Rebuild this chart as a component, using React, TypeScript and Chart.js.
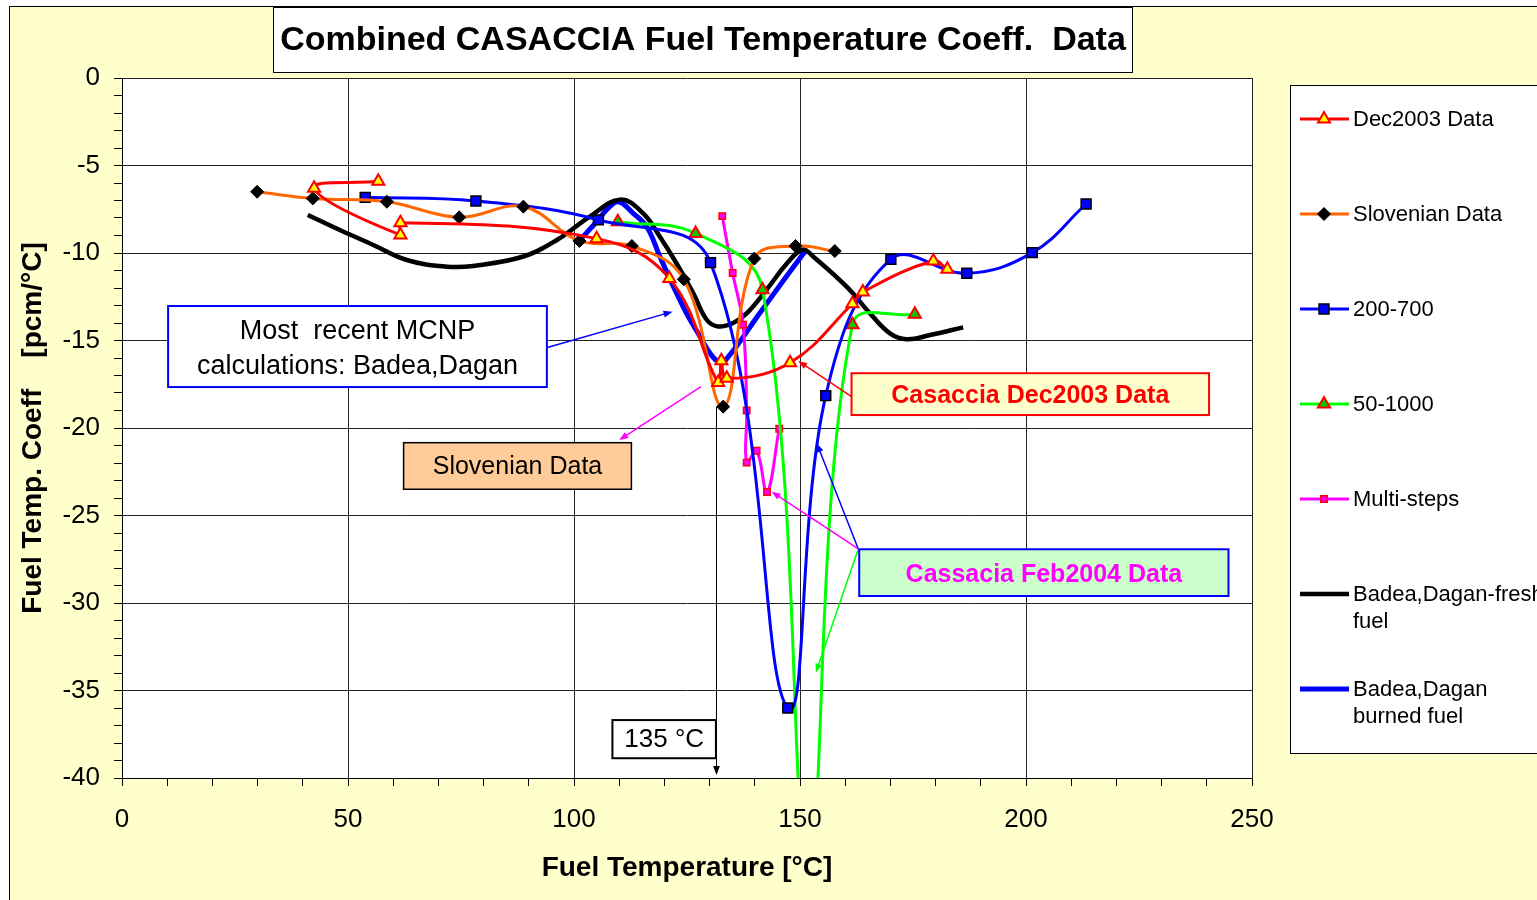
import React, { useEffect, useRef } from 'react';
import { Chart, registerables } from 'chart.js';

Chart.register(...registerables);

// ---------- DATA ----------
const seriesLabels = [
  'Dec2003 Data',
  'Slovenian Data',
  '200-700',
  '50-1000',
  'Multi-steps',
  'Badea,Dagan-fresh fuel',
  'Badea,Dagan burned fuel',
];
const legendLines = [
  ['Dec2003 Data'],
  ['Slovenian Data'],
  ['200-700'],
  ['50-1000'],
  ['Multi-steps'],
  ['Badea,Dagan-fresh', 'fuel'],
  ['Badea,Dagan', 'burned fuel'],
];

const dec2003X = [56.7, 42.5, 61.6, 61.6, 105.0, 121.1, 131.9, 132.6, 133.8, 147.8, 161.6, 163.9, 179.5, 182.6];
const dec2003Y = [-5.9, -6.3, -8.97, -8.27, -9.18, -11.45, -17.4, -16.15, -17.16, -16.27, -12.9, -12.23, -10.46, -10.93];

const slovX = [29.9, 42.2, 58.6, 74.6, 88.8, 101.2, 112.8, 124.3, 133.0, 139.9, 149.0, 157.7];
const slovY = [-6.5, -6.88, -7.07, -7.96, -7.35, -9.31, -9.6, -11.5, -18.78, -10.32, -9.6, -9.89];

const s200X = [53.8, 78.3, 105.4, 130.2, 147.3, 155.7, 170.1, 186.9, 201.4, 213.3];
const s200Y = [-6.82, -7.03, -8.11, -10.55, -36.0, -18.15, -10.36, -11.16, -9.98, -7.2];

const s50X = [109.7, 126.9, 141.7, 151.8, 161.6, 175.4];
const s50Y = [-8.21, -8.88, -12.1, -44.0, -14.1, -13.5];

const multiX = [132.8, 135.1, 137.4, 138.2, 138.2, 140.4, 142.7, 145.4];
const multiY = [-7.89, -11.14, -14.1, -19.0, -21.98, -21.3, -23.66, -20.04];

const freshX = [41.1, 48.2, 55.6, 63.0, 71.8, 77.7, 88.8, 96.2, 103.5, 110.2, 115.3, 119.0, 122.7, 126.4, 129.4, 131.9, 135.2, 138.2, 142.6, 147.1, 150.6, 152.9, 160.3, 165.5, 169.9, 173.6, 178.8, 186.1];
const freshY = [-7.83, -8.69, -9.54, -10.4, -10.78, -10.74, -10.2, -9.26, -7.92, -6.95, -7.73, -9.07, -10.6, -12.3, -13.83, -14.2, -14.0, -13.45, -12.1, -10.6, -9.8, -10.2, -11.92, -13.45, -14.59, -14.93, -14.69, -14.25];

const burnedX = [101.3, 105.4, 107.2, 109.8, 113.1, 116.1, 119.0, 122.0, 124.9, 127.9, 130.1, 131.9, 133.6, 141.2, 147.1, 151.1];
const burnedY = [-9.26, -8.1, -7.54, -7.07, -7.73, -8.5, -10.2, -11.92, -13.45, -14.78, -15.73, -16.2, -16.1, -13.4, -11.3, -9.92];

const xTickMajor = 50;
const yTickMajor = 5;

// ---------- STYLE / LAYOUT ----------
const W = 1537;
const H = 900;
const FONT = '"Liberation Sans", Arial, Helvetica, sans-serif';

const pts = (xs: number[], ys: number[]) => xs.map((x, i) => ({ x, y: ys[i] }));

type Marker = { style: string; r: number; fill: string; stroke: string; bw: number } | null;
const seriesStyle: { color: string; width: number; marker: Marker }[] = [
  { color: '#FF0000', width: 3, marker: { style: 'triangle', r: 7, fill: '#FFFF00', stroke: '#FF0000', bw: 2 } },
  { color: '#FF6600', width: 3, marker: { style: 'rectRot', r: 6.5, fill: '#000000', stroke: '#000000', bw: 1 } },
  { color: '#0000FF', width: 3, marker: { style: 'rect', r: 7, fill: '#0000FF', stroke: '#000000', bw: 1.5 } },
  { color: '#00FF00', width: 3, marker: { style: 'triangle', r: 7, fill: '#00CC00', stroke: '#FF0000', bw: 2 } },
  { color: '#FF00FF', width: 3, marker: { style: 'rect', r: 4.5, fill: '#FF00FF', stroke: '#FF0000', bw: 1.5 } },
  { color: '#000000', width: 4.5, marker: null },
  { color: '#0000FF', width: 5, marker: null },
];

const seriesData = [
  pts(dec2003X, dec2003Y),
  pts(slovX, slovY),
  pts(s200X, s200Y),
  pts(s50X, s50Y),
  pts(multiX, multiY),
  pts(freshX, freshY),
  pts(burnedX, burnedY),
];

// annotation anchors in data coordinates
const notes = {
  mcnp: { x1: 10.2, x2: 94.0, y1: -13.03, y2: -17.66, from: [94.1, -15.4], to: [121.8, -13.35] },
  slov: { x1: 62.3, x2: 112.7, y1: -20.84, y2: -23.5, from: [128.1, -17.64], to: [110.0, -20.69] },
  dec: { x1: 161.4, x2: 240.5, y1: -16.87, y2: -19.26, from: [161.4, -18.21], to: [149.6, -16.17] },
  feb: { x1: 163.1, x2: 244.8, y1: -26.93, y2: -29.6, from: [162.9, -26.91] },
  febTo: [[153.7, -20.87, '#0000FF'], [143.7, -23.64, '#FF00FF'], [153.5, -33.98, '#00FF00']] as [number, number, string][],
  t135: { x1: 108.5, x2: 131.4, y1: -36.69, y2: -38.87, lineX: 131.35, lineY1: -18.78, lineY2: -39.83 },
};

function drawMarker(ctx: CanvasRenderingContext2D, m: NonNullable<Marker>, x: number, y: number) {
  ctx.save();
  ctx.fillStyle = m.fill;
  ctx.strokeStyle = m.stroke;
  ctx.lineWidth = m.bw;
  ctx.beginPath();
  if (m.style === 'triangle') {
    let rad = 0;
    ctx.moveTo(x + Math.sin(rad) * m.r, y - Math.cos(rad) * m.r);
    rad += (2 * Math.PI) / 3;
    ctx.lineTo(x + Math.sin(rad) * m.r, y - Math.cos(rad) * m.r);
    rad += (2 * Math.PI) / 3;
    ctx.lineTo(x + Math.sin(rad) * m.r, y - Math.cos(rad) * m.r);
    ctx.closePath();
  } else if (m.style === 'rectRot') {
    ctx.moveTo(x, y - m.r);
    ctx.lineTo(x + m.r, y);
    ctx.lineTo(x, y + m.r);
    ctx.lineTo(x - m.r, y);
    ctx.closePath();
  } else {
    const s = m.r * Math.SQRT1_2;
    ctx.rect(x - s, y - s, 2 * s, 2 * s);
  }
  ctx.fill();
  ctx.stroke();
  ctx.restore();
}

function arrow(ctx: CanvasRenderingContext2D, x1: number, y1: number, x2: number, y2: number, color: string, lw = 1.5, head = 10) {
  ctx.save();
  ctx.strokeStyle = color;
  ctx.fillStyle = color;
  ctx.lineWidth = lw;
  const a = Math.atan2(y2 - y1, x2 - x1);
  ctx.beginPath();
  ctx.moveTo(x1, y1);
  ctx.lineTo(x2 - Math.cos(a) * head * 0.6, y2 - Math.sin(a) * head * 0.6);
  ctx.stroke();
  const w = head * 0.38;
  ctx.beginPath();
  ctx.moveTo(x2, y2);
  ctx.lineTo(x2 - head * Math.cos(a) + w * Math.sin(a), y2 - head * Math.sin(a) - w * Math.cos(a));
  ctx.lineTo(x2 - head * Math.cos(a) - w * Math.sin(a), y2 - head * Math.sin(a) + w * Math.cos(a));
  ctx.closePath();
  ctx.fill();
  ctx.restore();
}

function box(ctx: CanvasRenderingContext2D, x1: number, y1: number, x2: number, y2: number, fill: string, stroke: string, lw: number) {
  ctx.save();
  ctx.fillStyle = fill;
  ctx.fillRect(x1, y1, x2 - x1, y2 - y1);
  ctx.strokeStyle = stroke;
  ctx.lineWidth = lw;
  ctx.strokeRect(x1, y1, x2 - x1, y2 - y1);
  ctx.restore();
}

function text(ctx: CanvasRenderingContext2D, s: string, x: number, y: number, font: string, color: string, align: CanvasTextAlign = 'center') {
  ctx.save();
  ctx.font = font;
  ctx.fillStyle = color;
  ctx.textAlign = align;
  ctx.textBaseline = 'middle';
  ctx.fillText(s, x, y);
  ctx.restore();
}

const decoPlugin = {
  id: 'deco',
  beforeDraw(chart: any) {
    const ctx: CanvasRenderingContext2D = chart.ctx;
    const { left, top, right, bottom } = chart.chartArea;
    ctx.save();
    ctx.fillStyle = '#FFFFFF';
    ctx.fillRect(0, 0, W, H);
    ctx.fillStyle = '#FFFFCC';
    ctx.fillRect(9, 6, W, H);
    ctx.strokeStyle = '#000000';
    ctx.lineWidth = 1;
    ctx.strokeRect(9.5, 6.5, W + 20, H + 20);
    ctx.fillStyle = '#FFFFFF';
    ctx.fillRect(left, top, right - left, bottom - top);
    ctx.restore();
  },
  afterDraw(chart: any) {
    const ctx: CanvasRenderingContext2D = chart.ctx;
    const X = (v: number) => chart.scales.x.getPixelForValue(v);
    const Y = (v: number) => chart.scales.y.getPixelForValue(v);

    // title
    box(ctx, 273.5, 7.5, 1132.5, 72.5, '#FFFFFF', '#000000', 1);
    text(ctx, 'Combined CASACCIA Fuel Temperature Coeff.  Data', 703, 41, `bold 34px ${FONT}`, '#000000');

    // MCNP note
    const n1 = notes.mcnp;
    arrow(ctx, X(n1.from[0]), Y(n1.from[1]), X(n1.to[0]), Y(n1.to[1]), '#0000FF', 1.5, 9);
    box(ctx, X(n1.x1), Y(n1.y1), X(n1.x2), Y(n1.y2), '#FFFFFF', '#0000FF', 2);
    const c1 = (X(n1.x1) + X(n1.x2)) / 2;
    text(ctx, 'Most  recent MCNP', c1, Y(n1.y1) + 26, `27px ${FONT}`, '#000000');
    text(ctx, 'calculations: Badea,Dagan', c1, Y(n1.y1) + 61, `27px ${FONT}`, '#000000');

    // Slovenian note
    const n2 = notes.slov;
    arrow(ctx, X(n2.from[0]), Y(n2.from[1]), X(n2.to[0]), Y(n2.to[1]), '#FF00FF', 1.5, 9);
    box(ctx, X(n2.x1), Y(n2.y1), X(n2.x2), Y(n2.y2), '#FFCC99', '#000000', 1.5);
    text(ctx, 'Slovenian Data', (X(n2.x1) + X(n2.x2)) / 2, (Y(n2.y1) + Y(n2.y2)) / 2 + 1, `25px ${FONT}`, '#000000');

    // Dec2003 note
    const n3 = notes.dec;
    arrow(ctx, X(n3.from[0]), Y(n3.from[1]), X(n3.to[0]), Y(n3.to[1]), '#FF0000', 1.5, 9);
    box(ctx, X(n3.x1), Y(n3.y1), X(n3.x2), Y(n3.y2), '#FFFFCC', '#FF0000', 2);
    text(ctx, 'Casaccia Dec2003 Data', (X(n3.x1) + X(n3.x2)) / 2, (Y(n3.y1) + Y(n3.y2)) / 2 + 2, `bold 25px ${FONT}`, '#FF0000');

    // Feb2004 note
    const n4 = notes.feb;
    for (const [tx, ty, col] of notes.febTo) {
      arrow(ctx, X(n4.from[0]), Y(n4.from[1]), X(tx), Y(ty), col, 1.5, 9);
    }
    box(ctx, X(n4.x1), Y(n4.y1), X(n4.x2), Y(n4.y2), '#CCFFCC', '#0000FF', 2);
    text(ctx, 'Cassacia Feb2004 Data', (X(n4.x1) + X(n4.x2)) / 2, (Y(n4.y1) + Y(n4.y2)) / 2 + 2, `bold 25px ${FONT}`, '#FF00FF');

    // 135 C note
    const n5 = notes.t135;
    const lx = Math.round(X(n5.lineX)) + 0.5;
    arrow(ctx, lx, Y(n5.lineY1), lx, Y(n5.lineY2), '#000000', 1, 9);
    box(ctx, X(n5.x1), Y(n5.y1), X(n5.x2), Y(n5.y2), '#FFFFFF', '#000000', 2);
    text(ctx, '135 °C', (X(n5.x1) + X(n5.x2)) / 2, (Y(n5.y1) + Y(n5.y2)) / 2 + 1, `26px ${FONT}`, '#000000');

    // legend
    box(ctx, 1290.5, 85.5, W + 20, 753.5, '#FFFFFF', '#000000', 1);
    legendLines.forEach((lines, i) => {
      const st = seriesStyle[i];
      const y = 119 + i * 95;
      ctx.save();
      ctx.strokeStyle = st.color;
      ctx.lineWidth = st.width;
      ctx.beginPath();
      ctx.moveTo(1300, y);
      ctx.lineTo(1349, y);
      ctx.stroke();
      ctx.restore();
      if (st.marker) drawMarker(ctx, st.marker, 1324, y);
      lines.forEach((ln, k) => text(ctx, ln, 1353, y + 1 + k * 27, `22px ${FONT}`, '#000000', 'left'));
    });
  },
};

export default function App() {
  const ref = useRef<HTMLCanvasElement>(null);
  useEffect(() => {
    const canvas = ref.current;
    if (!canvas) return;
    const datasets = seriesData.map((data, i) => {
      const st = seriesStyle[i];
      const m = st.marker;
      return {
        label: seriesLabels[i],
        data,
        showLine: true,
        tension: 0.4,
        capBezierPoints: false,
        borderColor: st.color,
        borderWidth: st.width,
        backgroundColor: m ? m.fill : st.color,
        pointStyle: m ? (m.style as any) : 'circle',
        pointRadius: m ? m.r : 0,
        pointHoverRadius: m ? m.r : 0,
        pointBackgroundColor: m ? m.fill : st.color,
        pointBorderColor: m ? m.stroke : st.color,
        pointBorderWidth: m ? m.bw : 0,
      };
    });
    const chart = new Chart(canvas, {
      type: 'scatter',
      data: { datasets },
      options: {
        animation: false,
        responsive: false,
        maintainAspectRatio: false,
        layout: { padding: { left: 9, top: 78, right: W - 1252, bottom: 0 } },
        plugins: {
          legend: { display: false },
          tooltip: { enabled: false },
          title: { display: false },
        },
        scales: {
          x: {
            type: 'linear',
            min: 0,
            max: 250,
            afterFit: (s: any) => { s.height = 122; },
            ticks: {
              stepSize: 10,
              autoSkip: false,
              maxRotation: 0,
              padding: 18,
              color: '#000000',
              font: { family: FONT, size: 26 },
              callback: (v: any) => (Number(v) % xTickMajor === 0 ? String(v) : ''),
            },
            grid: {
              color: (c: any) => (c.tick && Math.abs(c.tick.value % xTickMajor) < 1e-9 ? '#222222' : 'rgba(0,0,0,0)'),
              tickColor: '#000000',
              tickLength: 8,
              lineWidth: 1,
            },
            border: { display: true, color: '#000000', width: 1 },
            title: {
              display: true,
              text: 'Fuel Temperature [°C]',
              color: '#000000',
              font: { family: FONT, size: 28, weight: 'bold' },
              padding: { top: 0, bottom: 15 },
            },
          },
          y: {
            type: 'linear',
            min: -40,
            max: 0,
            afterFit: (s: any) => { s.width = 113; },
            ticks: {
              stepSize: 1,
              autoSkip: false,
              padding: 14,
              color: '#000000',
              font: { family: FONT, size: 26 },
              callback: (v: any) => (Math.abs(Number(v) % yTickMajor) < 1e-9 ? String(v) : ''),
            },
            grid: {
              color: (c: any) => (c.tick && Math.abs(c.tick.value % yTickMajor) < 1e-9 ? '#222222' : 'rgba(0,0,0,0)'),
              tickColor: '#000000',
              tickLength: 8,
              lineWidth: 1,
            },
            border: { display: true, color: '#000000', width: 1 },
            title: {
              display: true,
              text: 'Fuel Temp. Coeff    [pcm/°C]',
              color: '#000000',
              font: { family: FONT, size: 28, weight: 'bold' },
              padding: { top: 7, bottom: 0 },
            },
          },
        },
      },
      plugins: [decoPlugin],
    } as any);
    return () => chart.destroy();
  }, []);
  return (
    <div style={{ position: 'fixed', left: 0, top: 0, width: W, height: H, overflow: 'hidden' }}>
      <canvas ref={ref} width={W} height={H} style={{ display: 'block' }} />
    </div>
  );
}
